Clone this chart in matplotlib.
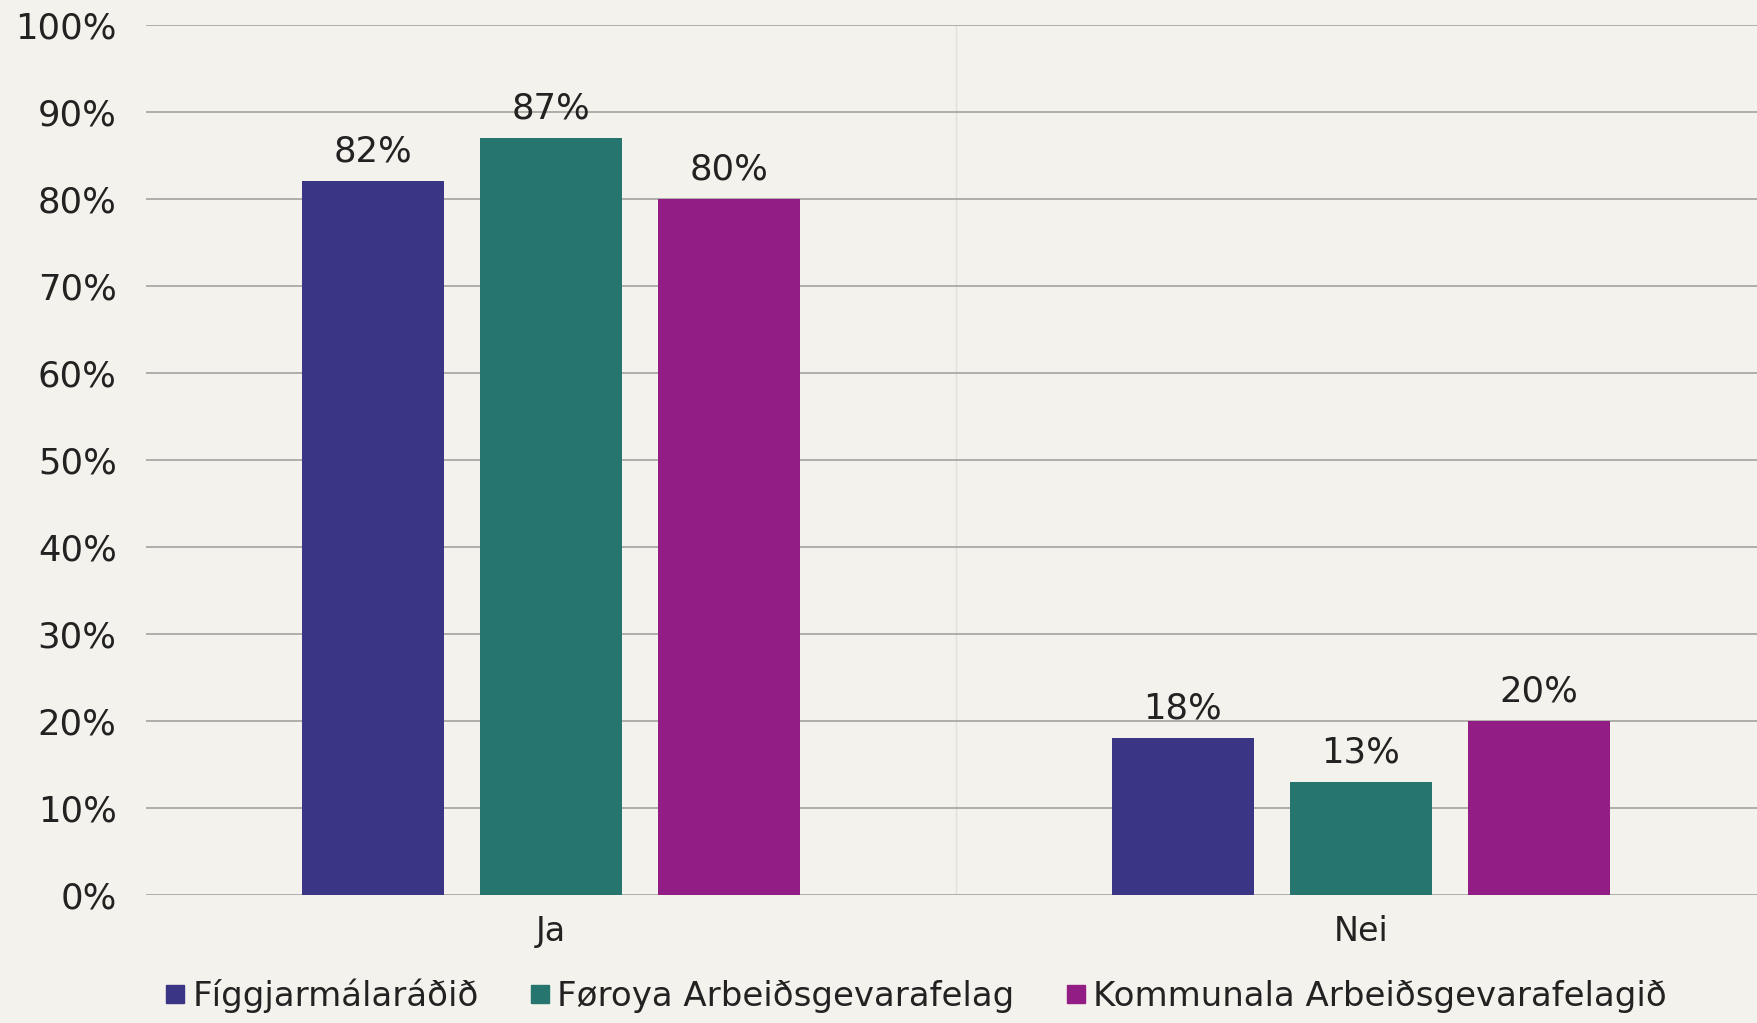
import matplotlib
matplotlib.use("Agg")
import matplotlib.pyplot as plt
from matplotlib.lines import Line2D
import numpy as np

# survey answers per organisation
categories = ["Ja", "Nei"]
series_names = ["Fíggjarmálaráðið", "Føroya Arbeiðsgevarafelag", "Kommunala Arbeiðsgevarafelagið"]
figgjar = [82, 18]
foroya = [87, 13]
kommunala = [80, 20]
yticks = [0, 10, 20, 30, 40, 50, 60, 70, 80, 90, 100]

colors = ["#3b3586", "#26756e", "#911d85"]
paper = "#f4f2ec"

plt.rcParams['font.family'] = ['DejaVu Sans']

fig = plt.figure(figsize=(17.58, 10.23), dpi=100, facecolor=paper)
ax = fig.add_axes([0.083, 0.125, 0.917, 0.851], facecolor=paper)

x = np.arange(len(categories))
width = 0.175
step = 0.22
for i, (vals, col) in enumerate(zip([figgjar, foroya, kommunala], colors)):
    pos = x + (i - 1) * step
    bars = ax.bar(pos, vals, width, color=col, zorder=3)
    for b, v in zip(bars, vals):
        ax.annotate(f"{v}%", (b.get_x() + b.get_width() / 2, v),
                    xytext=(0, 9), textcoords="offset points",
                    ha="center", va="bottom", fontsize=25.5, color="#222222")

ax.set_xlim(-0.5, 1.49)
ax.set_ylim(0, 100)
ax.set_yticks(yticks)
ax.set_yticklabels([f"{t}%" for t in yticks])
ax.set_xticks(x)
ax.set_xticklabels(categories)
ax.tick_params(axis="y", length=0, pad=21, labelsize=25.5, labelcolor="#222222")
ax.tick_params(axis="x", length=0, pad=14, labelsize=24, labelcolor="#222222")
ax.yaxis.grid(True, color="#a9a8a4", linewidth=1.3, zorder=0)
ax.axvline(0.5, color="#e2e0da", linewidth=1, zorder=0)
for s in ax.spines.values():
    s.set_visible(False)

handles = [Line2D([], [], marker="s", linestyle="none", markersize=13,
                  markerfacecolor=c, markeredgecolor=c) for c in colors]
fig.legend(handles, series_names, loc="lower center", ncol=3, frameon=False,
           fontsize=24.5, handletextpad=-0.1, columnspacing=1.2, handlelength=1.2,
           bbox_to_anchor=(0.518, -0.02), labelcolor="#222222")

fig.savefig("out.png", dpi=100, facecolor=paper)
